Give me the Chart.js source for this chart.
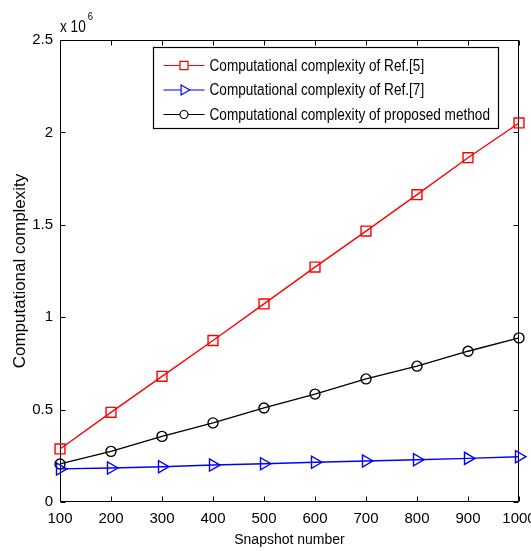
<!DOCTYPE html>
<html><head><meta charset="utf-8">
<script src="https://cdn.jsdelivr.net/npm/chart.js@4.4.1/dist/chart.umd.min.js"></script>
<style>html,body{margin:0;padding:0;background:#fff;}canvas{display:block;}</style>
</head><body>
<canvas id="c" width="531" height="551"></canvas>
<script>
// ---- data (values in units of 10^6) ----
const snapshots = [100, 200, 300, 400, 500, 600, 700, 800, 900, 1000];
const ref5 = [0.287, 0.485, 0.680, 0.874, 1.072, 1.271, 1.466, 1.663, 1.863, 2.051];
const ref7 = [0.179, 0.184, 0.191, 0.200, 0.207, 0.215, 0.222, 0.229, 0.236, 0.245];
const proposed = [0.206, 0.274, 0.355, 0.428, 0.509, 0.584, 0.666, 0.735, 0.816, 0.888];
const seriesLabels = ['Computational complexity of Ref.[5]', 'Computational complexity of Ref.[7]', 'Computational complexity of proposed method'];
const xTickLabels = ['100', '200', '300', '400', '500', '600', '700', '800', '900', '1000'];
const yTickValues = [0, 0.5, 1, 1.5, 2, 2.5];
const yTickLabels = ['0', '0.5', '1', '1.5', '2', '2.5'];
const exponentBase = 'x 10';
const exponentPower = '6';
const xTitle = 'Snapshot number';
const yTitle = 'Computational complexity';

const SANS = "'Liberation Sans', Arial, sans-serif";
const SQUEEZE = 0.85; // imitate the narrow face of the original
Chart.defaults.font.family = SANS;
Chart.defaults.color = '#000';

function narrowText(ctx, text, x, y, size) {
  ctx.save();
  ctx.font = size + 'px ' + SANS;
  ctx.translate(x, y);
  ctx.scale(SQUEEZE, 1);
  ctx.fillText(text, 0, 0);
  const w = ctx.measureText(text).width * SQUEEZE;
  ctx.restore();
  return w;
}

const framePlugin = {
  id: 'frame',
  beforeDatasetsDraw(chart) {
    const {ctx, chartArea: a, scales: {x, y}} = chart;
    const L = Math.round(a.left) + 0.5, R = Math.round(a.right) - 0.5;
    const T = Math.round(a.top) + 0.5, B = Math.round(a.bottom) - 0.5;
    const tl = 5;
    ctx.save();
    ctx.strokeStyle = '#000';
    ctx.lineWidth = 1;
    ctx.beginPath();
    ctx.rect(L, T, R - L, B - T);
    x.ticks.forEach(t => {
      const px = Math.round(x.getPixelForValue(t.value)) + 0.5;
      ctx.moveTo(px, B); ctx.lineTo(px, B - tl);
      ctx.moveTo(px, T); ctx.lineTo(px, T + tl);
    });
    y.ticks.forEach(t => {
      const py = Math.round(y.getPixelForValue(t.value)) + 0.5;
      ctx.moveTo(L, py); ctx.lineTo(L + tl, py);
      ctx.moveTo(R, py); ctx.lineTo(R - tl, py);
    });
    ctx.stroke();
    // exponent label
    ctx.fillStyle = '#000';
    ctx.textBaseline = 'alphabetic';
    ctx.textAlign = 'left';
    const w = narrowText(ctx, exponentBase, a.left, a.top - 8, 16);
    narrowText(ctx, exponentPower, a.left + w + 2, a.top - 20, 11);
    ctx.restore();
  },
  afterDatasetsDraw(chart) {
    const {ctx, chartArea: a} = chart;
    const bx = a.left + 93.5, by = a.top + 7.5, bw = 345, bh = 81;
    ctx.save();
    ctx.fillStyle = '#fff';
    ctx.fillRect(bx, by, bw, bh);
    ctx.strokeStyle = '#000';
    ctx.lineWidth = 1.2;
    ctx.strokeRect(bx, by, bw, bh);
    ctx.textBaseline = 'middle';
    ctx.textAlign = 'left';
    const legendRadius = {rect: 5.7, triangle: 5.8, circle: 4};
    chart.data.datasets.forEach((ds, i) => {
      const ry = by + 18 + i * 24.5;
      ctx.strokeStyle = ds.borderColor;
      ctx.lineWidth = 1.2;
      ctx.beginPath();
      ctx.moveTo(bx + 10, ry); ctx.lineTo(bx + 51, ry);
      ctx.stroke();
      ctx.fillStyle = '#fff';
      Chart.helpers.drawPoint(ctx, {
        pointStyle: ds.pointStyle, rotation: ds.pointRotation || 0,
        radius: legendRadius[ds.pointStyle], borderWidth: 1.2
      }, bx + 30.5, ry);
      ctx.fillStyle = '#000';
      narrowText(ctx, ds.label, bx + 56, ry + 1, 16);
    });
    ctx.restore();
  }
};

new Chart(document.getElementById('c'), {
  type: 'line',
  data: {
    datasets: [
      {label: seriesLabels[0], data: snapshots.map((s, i) => ({x: s, y: ref5[i]})),
       borderColor: '#ff0000', pointStyle: 'rect', pointRadius: 7},
      {label: seriesLabels[1], data: snapshots.map((s, i) => ({x: s, y: ref7[i]})),
       borderColor: '#0000ff', pointStyle: 'triangle', pointRotation: 90, pointRadius: 7},
      {label: seriesLabels[2], data: snapshots.map((s, i) => ({x: s, y: proposed[i]})),
       borderColor: '#000000', pointStyle: 'circle', pointRadius: 5}
    ].map(d => Object.assign(d, {
      borderWidth: 1.4, pointBorderWidth: 1.4, pointBorderColor: d.borderColor,
      pointBackgroundColor: 'rgba(0,0,0,0)', backgroundColor: 'rgba(0,0,0,0)',
      fill: false, tension: 0, clip: false, pointHoverRadius: d.pointRadius
    }))
  },
  options: {
    responsive: false,
    animation: false,
    events: [],
    layout: {padding: {top: 40, right: 12, left: 0, bottom: 0}},
    plugins: {legend: {display: false}, tooltip: {enabled: false}},
    scales: {
      x: {
        type: 'linear', min: 100, max: 1000,
        grid: {display: false, drawTicks: false},
        border: {display: false},
        ticks: {stepSize: 100, padding: 8, maxRotation: 0, autoSkip: false,
          font: {size: 15}, callback: (v, i) => xTickLabels[i]},
        title: {display: true, text: xTitle, font: {size: 14}, padding: {top: 0, bottom: 2}},
        afterFit(s) { s.height = 49; s.paddingLeft = 0; s.paddingRight = 0; }
      },
      y: {
        type: 'linear', min: 0, max: 2.5,
        grid: {display: false, drawTicks: false},
        border: {display: false},
        afterBuildTicks(s) { s.ticks = yTickValues.map(v => ({value: v})); },
        ticks: {padding: 7, font: {size: 15}, callback: (v, i) => yTickLabels[i]},
        title: {display: true, text: yTitle, font: {size: 17}, padding: {top: 10, bottom: 0}},
        afterFit(s) { s.width = 60; s.paddingTop = 0; s.paddingBottom = 0; }
      }
    }
  },
  plugins: [framePlugin]
});
</script>
</body></html>
